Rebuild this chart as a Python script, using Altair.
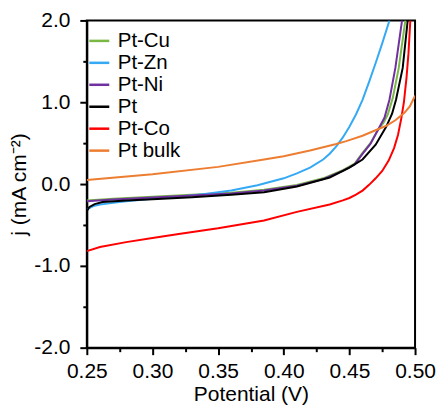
import altair as alt
import pandas as pd

series = ["Pt-Cu", "Pt-Zn", "Pt-Ni", "Pt", "Pt-Co", "Pt bulk"]
colors = ["#78B843", "#36A9F4", "#7030A0", "#000000", "#FF0000", "#ED7D31"]

x_major = [0.25, 0.30, 0.35, 0.40, 0.45, 0.50]
x_minor = [0.275, 0.325, 0.375, 0.425, 0.475]
y_major = [-2.0, -1.0, 0.0, 1.0, 2.0]
y_minor = [-1.5, -0.5, 0.5, 1.5]

cu_v = [0.25, 0.27, 0.30, 0.33, 0.36, 0.385, 0.41, 0.43, 0.445, 0.454, 0.46, 0.466, 0.4717, 0.476, 0.4792, 0.483, 0.4876, 0.4926]
cu_j = [-0.20, -0.18, -0.155, -0.13, -0.105, -0.07, -0.01, 0.07, 0.17, 0.25, 0.38, 0.50, 0.66, 0.75, 0.85, 1.05, 1.42, 2.0]

zn_v = [0.25, 0.255, 0.26, 0.27, 0.28, 0.30, 0.32, 0.34, 0.36, 0.38, 0.40, 0.41, 0.42, 0.43, 0.435, 0.44, 0.445, 0.45, 0.455, 0.46, 0.465, 0.47, 0.475, 0.4805]
zn_j = [-0.31, -0.27, -0.25, -0.23, -0.21, -0.18, -0.155, -0.12, -0.08, -0.015, 0.07, 0.13, 0.20, 0.30, 0.37, 0.46, 0.57, 0.70, 0.85, 1.03, 1.25, 1.48, 1.72, 2.0]

ni_v = [0.25, 0.27, 0.30, 0.33, 0.36, 0.385, 0.41, 0.43, 0.445, 0.454, 0.46, 0.466, 0.4717, 0.4767, 0.4805, 0.485, 0.4901]
ni_j = [-0.21, -0.19, -0.165, -0.14, -0.115, -0.08, -0.02, 0.06, 0.16, 0.24, 0.37, 0.49, 0.66, 0.81, 1.03, 1.42, 2.0]

pt_v = [0.25, 0.252, 0.256, 0.262, 0.28, 0.30, 0.33, 0.36, 0.385, 0.41, 0.435, 0.45, 0.46, 0.47, 0.478, 0.4825, 0.4855, 0.4906, 0.4944]
pt_j = [-0.33, -0.28, -0.245, -0.22, -0.20, -0.185, -0.16, -0.13, -0.10, -0.03, 0.08, 0.20, 0.30, 0.48, 0.70, 0.86, 1.03, 1.42, 2.0]

co_v = [0.25, 0.26, 0.28, 0.30, 0.32, 0.35, 0.385, 0.41, 0.435, 0.445, 0.45, 0.455, 0.46, 0.465, 0.47, 0.475, 0.48, 0.484, 0.487, 0.4895, 0.4915, 0.4935, 0.495, 0.4964]
co_j = [-0.82, -0.77, -0.71, -0.66, -0.61, -0.54, -0.445, -0.34, -0.25, -0.20, -0.17, -0.13, -0.08, -0.01, 0.07, 0.16, 0.29, 0.44, 0.60, 0.80, 1.00, 1.30, 1.60, 2.0]

bulk_v = [0.25, 0.30, 0.35, 0.385, 0.40, 0.42, 0.44, 0.4476, 0.46, 0.4717, 0.4784, 0.485, 0.4919, 0.496, 0.50]
bulk_j = [0.05, 0.12, 0.21, 0.30, 0.34, 0.41, 0.49, 0.525, 0.59, 0.67, 0.715, 0.78, 0.87, 0.95, 1.08]

vs = [cu_v, zn_v, ni_v, pt_v, co_v, bulk_v]
js = [cu_j, zn_j, ni_j, pt_j, co_j, bulk_j]

rows = []
for name, v_list, j_list in zip(series, vs, js):
    for v, j in zip(v_list, j_list):
        rows.append({"V": v, "j": j, "series": name})
df = pd.DataFrame(rows)

FONT = "Liberation Sans"

x_scale = alt.Scale(domain=[0.25, 0.5], nice=False, zero=False)
y_scale = alt.Scale(domain=[-2.0, 2.0], nice=False, zero=False)

lines = alt.Chart(df).mark_line(strokeWidth=2, clip=True).encode(
    x=alt.X("V:Q", scale=x_scale,
            axis=alt.Axis(values=x_major, format=".2f", title="Potential (V)",
                          tickSize=7, tickWidth=2, labelPadding=6, titlePadding=2,
                          domainWidth=2, domainColor="black", tickColor="black",
                          grid=False, orient="bottom", labelFlush=False)),
    y=alt.Y("j:Q", scale=y_scale,
            axis=alt.Axis(values=y_major, title="j (mA cm\u207b\u00b2)",
                          labelExpr="replace(format(datum.value, '.1f'), '\u2212', '-')",
                          tickSize=7, tickWidth=2, labelPadding=10, titlePadding=4,
                          domainWidth=2, domainColor="black", tickColor="black",
                          grid=False, orient="left", labelFlush=False)),
    color=alt.Color("series:N", scale=alt.Scale(domain=series, range=colors),
                    legend=alt.Legend(orient="none", legendX=1, legendY=9, title=None,
                                      symbolType="M-1,0L1,0", symbolSize=400,
                                      symbolStrokeWidth=2.5, labelFontSize=20.5,
                                      labelFont=FONT, labelColor="black",
                                      rowPadding=-3, labelOffset=7, padding=0)),
)

minor = alt.Chart(df).mark_point(opacity=0).encode(
    x=alt.X("V:Q", scale=x_scale,
            axis=alt.Axis(values=x_minor, labels=False, title=None, tickSize=4, tickWidth=2,
                          domain=False, grid=False, tickColor="black", orient="bottom")),
    y=alt.Y("j:Q", scale=y_scale,
            axis=alt.Axis(values=y_minor, labels=False, title=None, tickSize=4, tickWidth=2,
                          domain=False, grid=False, tickColor="black", orient="left")),
)

chart = alt.layer(lines, minor).resolve_axis(
    x="independent", y="independent"
).properties(
    width=329, height=328,
    padding={"left": 0, "top": 1, "right": 0, "bottom": 0},
).configure_view(
    stroke="black", strokeWidth=2
).configure_axis(
    labelFont=FONT, titleFont=FONT, labelFontSize=21, titleFontSize=21,
    labelColor="black", titleColor="black", titleFontWeight="normal"
)

chart.save("out.html", embed_options={"renderer": "svg", "actions": False})
